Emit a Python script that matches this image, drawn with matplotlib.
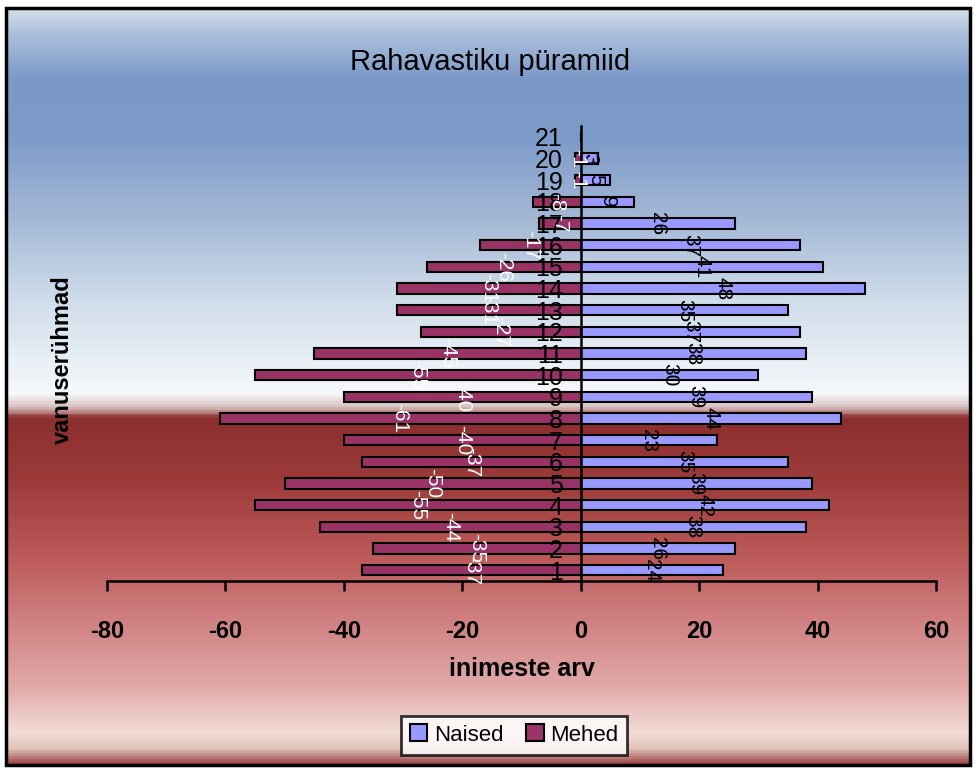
import numpy as np
import matplotlib
matplotlib.use("Agg")
import matplotlib.pyplot as plt
from matplotlib.colors import LinearSegmentedColormap
from matplotlib.patches import Rectangle

# andmed
vanus = list(range(1, 22))
naised = [24, 26, 38, 42, 39, 35, 23, 44, 39, 30, 38, 37, 35, 48, 41, 37, 26, 9, 5, 3, 0]
mehed = [-37, -35, -44, -55, -50, -37, -40, -61, -40, -55, -45, -27, -31, -31, -26, -17, -7, -8, -1, -1, 0]
xticks = [-80, -60, -40, -20, 0, 20, 40, 60]

plt.rcParams['font.family'] = ['Liberation Sans', 'DejaVu Sans']

fig = plt.figure(figsize=(9.76, 7.72), dpi=100, facecolor='white')

# taust - vertikaalne gradient
bg = fig.add_axes([6/976, 7/772, 964/976, 757/772])
stops = [(10, '#d4dfe9'), (35, '#aabfdb'), (80, '#7b99c8'), (140, '#7d9bc9'),
         (220, '#a4b8d6'), (300, '#cfdcea'), (395, '#f6f9fc'), (408, '#d8c0c0'),
         (420, '#8c2e2e'), (480, '#9c3a3a'), (560, '#bd5a5a'), (620, '#cf7f7f'),
         (690, '#e2aaaa'), (735, '#f2dcd6'), (750, '#e0c4bc'), (765, '#a04848')]
pos = [(y - 10) / 755 for y, c in stops]
cmap = LinearSegmentedColormap.from_list('bg', list(zip(pos, [c for y, c in stops])))
grad = np.linspace(0, 1, 500).reshape(-1, 1)
bg.imshow(grad, aspect='auto', cmap=cmap, extent=[0, 1, 0, 1], origin='upper')
bg.set_xlim(0, 1)
bg.set_ylim(0, 1)
bg.axis('off')
bg.add_patch(Rectangle((0, 0), 1, 1, transform=bg.transAxes, fill=False,
                       edgecolor='black', lw=2.5, clip_on=False))

ax = fig.add_axes([107/976, 191/772, 829/976, 455/772])
ax.set_facecolor('none')
ax.set_axisbelow(False)
ax.spines['left'].set_position(('data', 0))
ax.spines['top'].set_visible(False)
ax.spines['right'].set_visible(False)
ax.spines['left'].set_linewidth(1.8)
ax.spines['bottom'].set_linewidth(1.8)

b1 = ax.barh(vanus, naised, height=0.48, color='#9999ff', edgecolor='black', lw=1.5, label='Naised', zorder=2)
b2 = ax.barh(vanus, mehed, height=0.48, color='#993366', edgecolor='black', lw=1.5, label='Mehed', zorder=2)

ax.bar_label(b1, labels=[str(v) if v else '' for v in naised], label_type='center',
             rotation=-90, fontsize=15, color='black', zorder=5)
ax.bar_label(b2, labels=[str(v) if v else '' for v in mehed], label_type='center',
             rotation=-90, fontsize=15, color='white', zorder=5)

ax.set_xlim(-80, 60)
ax.set_ylim(0.5, 21.5)
ax.set_xticks(xticks)
ax.set_xticklabels([str(t) for t in xticks], fontsize=17, fontweight='bold')
ax.set_yticks(vanus)
ax.set_yticklabels([str(v) for v in vanus], fontsize=18)
ax.tick_params(axis='y', length=0, pad=13)
ax.tick_params(axis='x', direction='out', length=7, width=1.8, pad=21)

ax.set_xlabel('inimeste arv', fontsize=18, fontweight='bold', labelpad=10)
fig.text(62/976, 1 - 360/772, 'vanuserühmad', rotation=90, fontsize=17, fontweight='bold',
         ha='center', va='center')
fig.text(490/976, 1 - 62/772, 'Rahavastiku püramiid', fontsize=21,
         ha='center', va='center')

leg = fig.legend(handles=[b1, b2], loc='center', bbox_to_anchor=(514/976, 1 - 735/772),
                 ncol=2, fontsize=16, frameon=True, fancybox=False, edgecolor='black',
                 handlelength=0.8, handleheight=0.8, handletextpad=0.3, columnspacing=1.0,
                 borderpad=0.4)
leg.get_frame().set_linewidth(2)

fig.savefig('out.png', dpi=100, facecolor='white')
